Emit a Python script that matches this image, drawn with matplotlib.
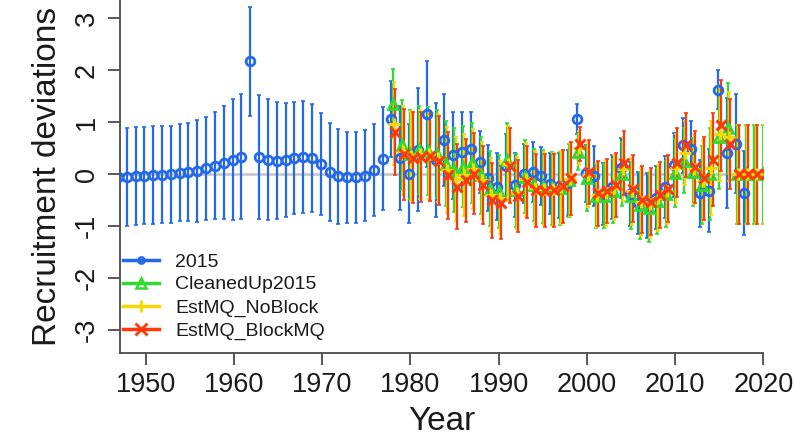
import numpy as np
import matplotlib
matplotlib.use("Agg")
import matplotlib.pyplot as plt
from matplotlib.lines import Line2D

plt.rcParams['font.family'] = ['Liberation Sans', 'DejaVu Sans']

# ---------------- data ----------------
years_2015 = list(range(1947, 2019))
dev_2015 = [-0.05, -0.05, -0.04, -0.03, -0.02, -0.01, 0.00, 0.03, 0.04, 0.06,
            0.11, 0.16, 0.22, 0.28, 0.34, 2.17, 0.33, 0.28, 0.26, 0.27,
            0.31, 0.33, 0.31, 0.19, 0.04, -0.04, -0.06, -0.06, -0.03, 0.08,
            0.30, 1.07, 0.31, 0.01, 0.47, 1.15, 0.27, 0.66, 0.36, 0.43,
            0.49, 0.23, -0.07, -0.24, 0.16, -0.21, 0.01, 0.04, -0.04, -0.18,
            -0.22, -0.17, 1.07, 0.02, -0.03, -0.38, -0.25, 0.12, -0.38, -0.55,
            -0.60, -0.45, -0.25, 0.18, 0.56, 0.48, -0.37, -0.32, 1.63, 0.40,
            0.59, -0.36]
ci_2015 = [0.94, 0.94, 0.94, 0.93, 0.94, 0.93, 0.93, 0.94, 0.95, 0.98,
           0.99, 1.03, 1.09, 1.16, 1.21, 1.05, 1.20, 1.16, 1.13, 1.10,
           1.08, 1.08, 1.04, 0.98, 0.95, 0.91, 0.88, 0.88, 0.88, 0.89,
           0.99, 0.73, 1.00, 0.95, 1.18, 1.02, 1.10, 0.88, 0.83, 0.76,
           0.70, 0.60, 0.63, 0.64, 0.62, 0.61, 0.57, 0.58, 0.56, 0.59,
           0.62, 0.64, 0.29, 0.55, 0.58, 0.60, 0.62, 0.58, 0.62, 0.60,
           0.62, 0.60, 0.60, 0.62, 0.53, 0.55, 0.64, 0.80, 0.38, 1.06,
           0.95, 0.81]

years_new = list(range(1978, 2021))
dev_clean = [1.36, 0.56, 0.38, 0.46, 0.44, 0.39, 0.20, 0.08, 0.14, 0.21,
             -0.02, -0.28, -0.34, 0.27, -0.31, -0.05, -0.21, -0.24, -0.27, -0.27,
             -0.12, 0.43, -0.08, -0.42, -0.42, -0.32, 0.00, -0.42, -0.60, -0.65,
             -0.52, -0.38, 0.02, 0.26, 0.04, -0.20, 0.00, 0.72, 0.88, 0.00,
             0.00, 0.00, 0.00]
ci_clean = [0.66, 0.86, 0.86, 0.85, 0.85, 0.84, 0.82, 0.80, 0.78, 0.77,
            0.74, 0.72, 0.70, 0.72, 0.70, 0.70, 0.70, 0.70, 0.70, 0.70,
            0.70, 0.35, 0.62, 0.62, 0.62, 0.62, 0.62, 0.64, 0.65, 0.65,
            0.64, 0.64, 0.66, 0.62, 0.66, 0.75, 0.88, 1.00, 0.88, 0.95,
            0.95, 0.95, 0.95]
dev_noblock = [0.97, 0.45, 0.35, 0.38, 0.38, 0.31, 0.08, -0.10, -0.02, 0.10,
               -0.12, -0.40, -0.45, 0.20, -0.36, -0.10, -0.26, -0.28, -0.29, -0.25,
               -0.10, 0.50, -0.02, -0.40, -0.37, -0.26, 0.10, -0.33, -0.54, -0.58,
               -0.46, -0.32, 0.11, 0.41, 0.10, -0.13, 0.12, 0.77, 0.72, 0.00,
               0.00, 0.00, 0.00]
ci_noblock = [0.80, 0.86, 0.86, 0.86, 0.86, 0.85, 0.83, 0.81, 0.79, 0.77,
              0.74, 0.72, 0.70, 0.72, 0.70, 0.70, 0.70, 0.70, 0.70, 0.70,
              0.70, 0.33, 0.62, 0.62, 0.62, 0.62, 0.62, 0.64, 0.65, 0.65,
              0.64, 0.64, 0.66, 0.62, 0.68, 0.78, 0.90, 0.90, 0.86, 0.95,
              0.95, 0.95, 0.95]
dev_blockmq = [0.81, 0.38, 0.32, 0.33, 0.35, 0.26, -0.02, -0.24, -0.12, 0.01,
               -0.21, -0.50, -0.55, 0.16, -0.42, -0.15, -0.31, -0.32, -0.31, -0.23,
               -0.08, 0.58, 0.04, -0.37, -0.32, -0.21, 0.21, -0.28, -0.49, -0.53,
               -0.40, -0.28, 0.22, 0.56, 0.14, -0.08, 0.28, 0.94, 0.58, 0.00,
               0.00, 0.00, 0.00]
ci_blockmq = [0.83, 0.87, 0.87, 0.87, 0.87, 0.86, 0.84, 0.82, 0.80, 0.78,
              0.75, 0.72, 0.70, 0.72, 0.70, 0.70, 0.70, 0.70, 0.70, 0.70,
              0.70, 0.32, 0.62, 0.62, 0.62, 0.62, 0.62, 0.64, 0.65, 0.65,
              0.64, 0.64, 0.66, 0.61, 0.70, 0.80, 0.90, 0.87, 0.86, 0.95,
              0.95, 0.95, 0.95]

labels = ["2015", "CleanedUp2015", "EstMQ_NoBlock", "EstMQ_BlockMQ"]
colors = ["#2469EA", "#2EDC2E", "#F6D800", "#FF3A0A"]
markers = ["o", "^", "+", "x"]
shifts = [-0.15, 0.0, 0.12, 0.25]

series = [
    (years_2015, dev_2015, ci_2015),
    (years_new, dev_clean, ci_clean),
    (years_new, dev_noblock, ci_noblock),
    (years_new, dev_blockmq, ci_blockmq),
]

# ---------------- figure ----------------
W, H = 794, 441
fig = plt.figure(figsize=(W / 100, H / 100), dpi=100)
ax = fig.add_axes([120 / W, 1 - 353 / H, (763.3 - 120) / W, 353 / H])

ax.axhline(0, color="#C4C4C4", lw=1.8, zorder=1)

for (yrs, dev, ci), col, sh in zip(series, colors, shifts):
    x = np.array(yrs) + sh
    ax.errorbar(x, dev, yerr=ci, fmt="none", ecolor=col, elinewidth=1.6,
                capsize=1.6, capthick=1.2, zorder=2)

msz = {"o": 6.3, "^": 7.5, "+": 9.0, "x": 7.0}
for (yrs, dev, ci), col, mk, sh in zip(series, colors, markers, shifts):
    x = np.array(yrs) + sh
    if mk in ("o", "^"):
        ax.plot(x, dev, ls="none", marker=mk, ms=msz[mk], mfc="none",
                mec=col, mew=2.0, zorder=3)
    else:
        ax.plot(x, dev, ls="none", marker=mk, ms=msz[mk], color=col,
                mew=2.2, zorder=3)

ax.set_xlim(1947.09, 2020.0)
ax.set_ylim(-3.442, 3.353)

ax.set_xticks([1950, 1960, 1970, 1980, 1990, 2000, 2010, 2020])
ax.set_yticks([-3, -2, -1, 0, 1, 2, 3])
ax.set_yticklabels(["-3", "-2", "-1", "0", "1", "2", "3"], rotation=90,
                   va="center")

for s in ["top", "right"]:
    ax.spines[s].set_visible(False)
for s in ["left", "bottom"]:
    ax.spines[s].set_color("#4a4a4a")
    ax.spines[s].set_linewidth(1.3)

ax.tick_params(axis="both", direction="out", length=8.5, width=1.3,
               color="#4a4a4a", labelsize=19.5, labelcolor="#1a1a1a")
ax.tick_params(axis="x", pad=5)
ax.tick_params(axis="y", pad=6)

ax.set_xlabel("Year", fontsize=24, color="#1a1a1a", labelpad=6)
ax.set_ylabel("Recruitment deviations", fontsize=24, color="#1a1a1a",
              labelpad=8)

handles = []
for lab, col, mk in zip(labels, colors, markers):
    if mk in ("o", "^"):
        h = Line2D([], [], color=col, lw=2.5, marker=mk,
                   ms=6.5 if mk == "^" else 4.5, mfc="none", mec=col, mew=1.8)
    else:
        h = Line2D([], [], color=col, lw=2.5, marker=mk, ms=9, mew=2.0)
    handles.append(h)

leg = fig.legend(handles, labels, loc="upper left",
                 bbox_to_anchor=(123 / W, 1 - 253 / H),
                 bbox_transform=fig.transFigure,
                 frameon=False, fontsize=14, handlelength=1.85,
                 handletextpad=0.85, labelspacing=0.27, borderaxespad=0.0,
                 borderpad=0.0)
for t in leg.get_texts():
    t.set_color("#1a1a1a")

fig.savefig("out.png", dpi=100)
